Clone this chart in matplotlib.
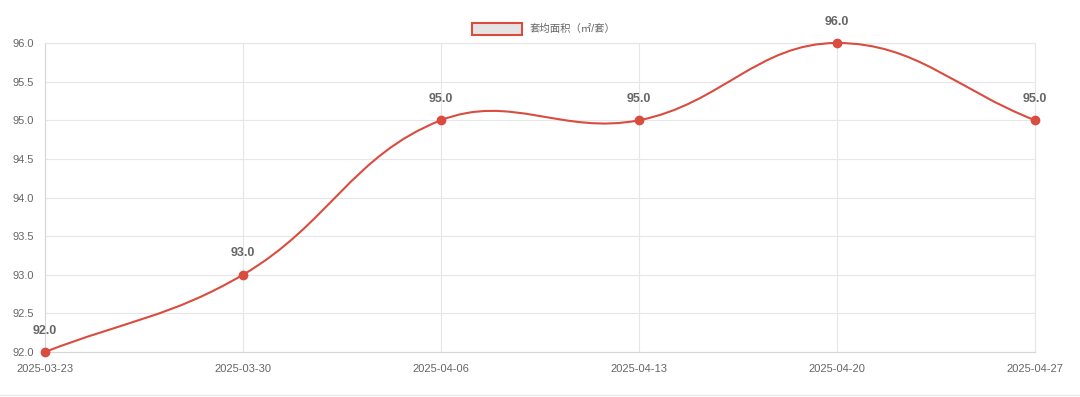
import numpy as np
import matplotlib
matplotlib.use('Agg')
from matplotlib import pyplot as plt
from matplotlib.path import Path
from matplotlib.patches import PathPatch, Rectangle
from matplotlib.lines import Line2D

dates = ['2025-03-23', '2025-03-30', '2025-04-06', '2025-04-13', '2025-04-20', '2025-04-27']
area = [92.0, 93.0, 95.0, 95.0, 96.0, 95.0]
y_ticks = [92.0, 92.5, 93.0, 93.5, 94.0, 94.5, 95.0, 95.5, 96.0]
legend_label = '套均面积（㎡/套）'

line_color = '#d94c3f'
text_color = '#666666'
grid_color = '#e6e6e6'

plt.rcParams['font.family'] = ['Liberation Sans', 'Noto Sans CJK SC', 'DejaVu Sans']

W, H = 1080, 397
fig = plt.figure(figsize=(W / 100, H / 100), dpi=100)
ax = fig.add_axes([45 / W, 1 - 352 / H, (1035 - 45) / W, (352 - 43) / H])

x = np.arange(len(dates))
ax.set_xlim(0, len(dates) - 1)
ax.set_ylim(92, 96)
ax.set_xticks(x)
ax.set_xticklabels(dates)
ax.set_yticks(y_ticks)
ax.set_yticklabels(['%.1f' % v for v in y_ticks])
ax.tick_params(colors=text_color, labelsize=8, length=0)
ax.tick_params(axis='x', pad=9)
ax.tick_params(axis='y', pad=8)
ax.grid(True, color=grid_color, linewidth=0.8)
ax.set_axisbelow(True)
for s in ax.spines.values():
    s.set_color(grid_color)
    s.set_linewidth(0.8)
ax.spines['left'].set_color('#d6d6d6')
ax.spines['bottom'].set_color('#d6d6d6')

# chart.js style bezier (tension 0.4) computed in pixel space
pts = ax.transData.transform(np.column_stack([x, area]))
t = 0.4
n = len(pts)
cps = []
for i in range(n):
    prev = pts[max(i - 1, 0)]
    cur = pts[i]
    nxt = pts[min(i + 1, n - 1)]
    d01 = np.hypot(*(cur - prev))
    d12 = np.hypot(*(nxt - cur))
    tot = d01 + d12
    s01 = d01 / tot if tot else 0
    s12 = d12 / tot if tot else 0
    cps.append((cur - t * s01 * (nxt - prev), cur + t * s12 * (nxt - prev)))
verts = [pts[0]]
codes = [Path.MOVETO]
for i in range(n - 1):
    verts += [cps[i][1], cps[i + 1][0], pts[i + 1]]
    codes += [Path.CURVE4] * 3
verts = ax.transData.inverted().transform(np.array(verts))
ax.add_patch(PathPatch(Path(verts, codes), facecolor='none', edgecolor=line_color,
                       linewidth=1.5, clip_on=False, zorder=3))
ax.scatter(x, area, s=36, color=line_color, zorder=4, clip_on=False)

for xi, yi in zip(x, area):
    ax.annotate('%.1f' % yi, (xi, yi), xytext=(0, 11), textcoords='offset points',
                ha='center', va='bottom', fontsize=9, fontweight='bold',
                color=text_color, annotation_clip=False)

# legend
fig.patches.append(Rectangle((472 / W, 1 - 35 / H), 50 / W, 12 / H, transform=fig.transFigure,
                             facecolor='#e4e4e4', edgecolor=line_color, linewidth=1.5))
fig.text(530 / W, 1 - 29 / H, legend_label, fontsize=7.5, color=text_color, va='center', ha='left')

# faint card border at the bottom
fig.lines.append(Line2D([0, 1], [1 - 395 / H, 1 - 395 / H], transform=fig.transFigure,
                        color='#e8e8e8', linewidth=1))

fig.savefig('out.png', dpi=100)
